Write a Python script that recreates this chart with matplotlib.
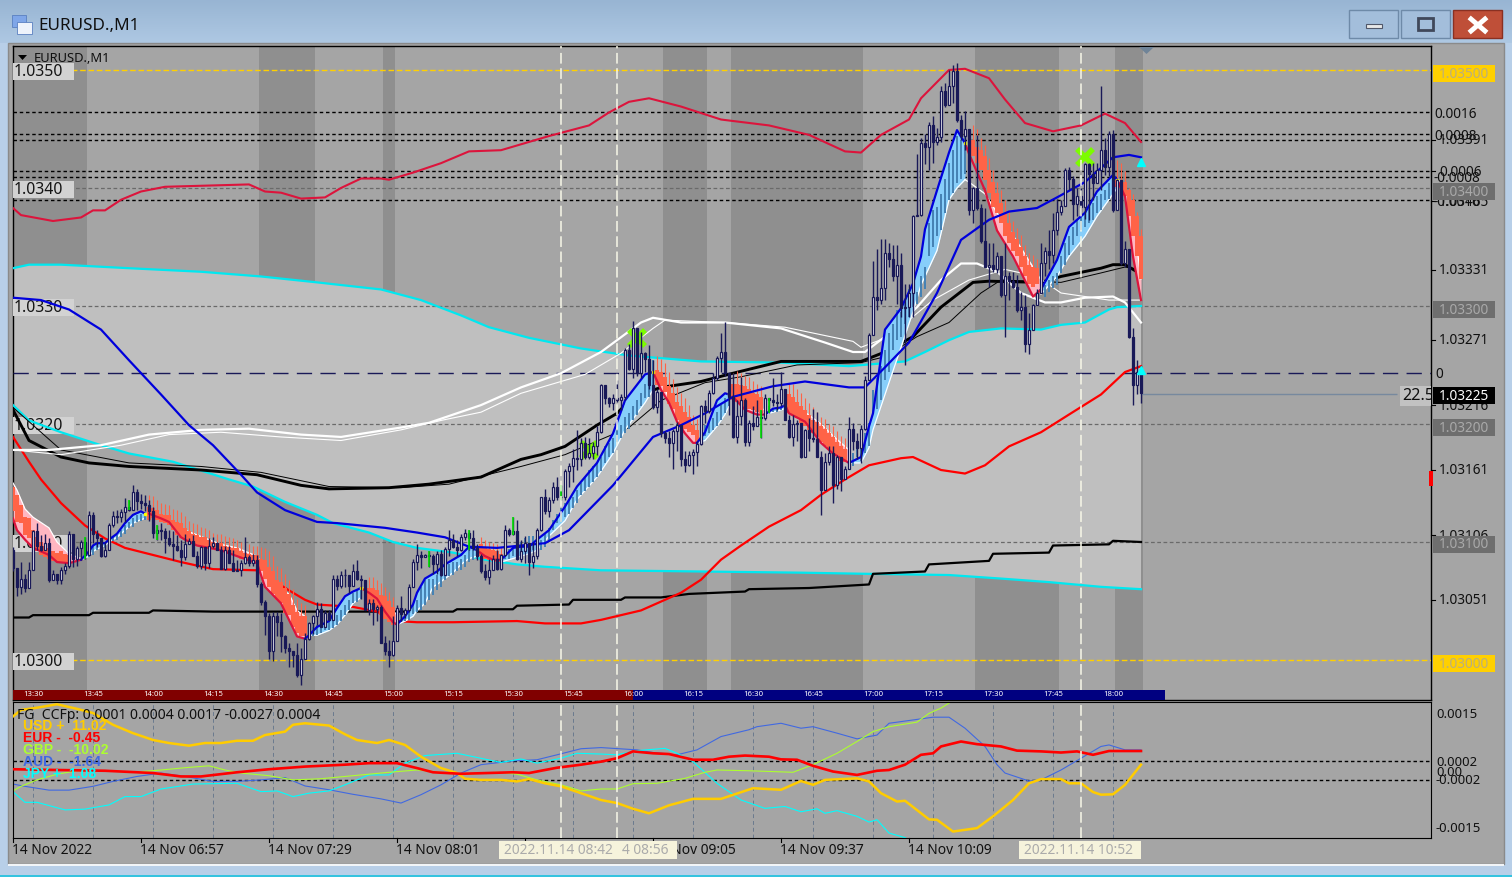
import numpy as np
import matplotlib
matplotlib.use("Agg")
from matplotlib import pyplot as plt
from matplotlib.patches import Rectangle, Polygon

plt.rcParams['font.family'] = ['Noto Sans', 'DejaVu Sans']

# prices are in points above 1.03000, x is bars (minutes) from 13:25
closes = [78,62,69,61,76,109,97,93,99,68,73,68,76,80,107,86,95,100,89,123,107,103,88,93,114,122,121,125,130,127,
          142,135,133,131,126,108,110,109,103,98,97,93,87,98,101,88,80,96,82,97,99,93,77,93,82,75,76,82,87,82,
          85,64,49,37,8,37,32,20,10,8,
          4,-13,1,18,31,37,43,28,40,34,69,63,72,72,63,75,69,68,42,48,43,45,14,8,4,16,44,39,42,62,83,89,87,89,88,81,90,72,
          94,102,96,93,104,108,103,95,88,75,70,76,86,77,89,110,107,109,86,92,99,83,88,110,138,
          126,136,147,138,138,160,164,171,170,184,172,175,181,193,233,222,218,222,220,223,263,247,281,243,260,255,233,
          214,227,192,188,184,194,199,170,165,174,176,183,215,211,226,239,256,261,243,223,189,207,220,185,201,198,206,
          205,222,220,219,218,230,203,189,200,201,172,195,188,187,172,144,168,175,148,172,153,162,196,186,180,196,237,
          275,308,305,315,345,340,325,335,298,299,311,376,377,438,435,453,439,443,482,470,486,499,458,444,450,381,400,
          383,355,333,335,331,342,309,325,321,316,297,299,268,280,301,311,336,347,343,364,380,385,415,408,386,393,384,
          420,412,404,415,432,418,446,381,407,336,348,274,233,244,226]
highs = [96,78,83,73,83,110,116,106,107,103,76,73,79,82,109,106,97,102,104,126,125,110,102,100,116,126,127,128,137,136,
         148,145,141,140,136,130,114,116,112,110,109,106,102,107,103,106,92,97,96,103,104,100,97,97,97,93,85,85,104,89,
         90,89,66,51,40,41,41,40,21,14,
         8,14,10,23,32,38,49,48,42,42,72,72,75,77,72,81,85,72,67,52,52,47,47,20,17,37,47,54,44,64,86,98,92,90,92,90,92,93,
         96,110,107,102,107,111,110,110,98,90,81,86,89,93,90,114,112,121,119,102,105,99,100,112,138,
         145,138,151,155,148,162,167,179,195,188,189,188,185,198,234,233,223,225,237,225,264,268,287,280,278,261,267,
         254,230,222,194,194,196,202,192,177,177,179,186,216,220,229,243,258,277,286,234,243,220,240,222,203,215,220,
         212,225,222,239,225,244,230,208,208,203,200,196,205,213,210,177,175,181,181,174,164,164,206,201,192,199,241,
         277,338,348,357,357,353,352,352,345,319,319,377,429,442,446,456,461,451,486,489,500,504,506,462,465,446,401,
         445,386,383,353,353,346,342,353,329,329,326,312,309,294,302,314,353,350,364,379,391,390,417,418,410,400,400,
         421,421,421,421,486,442,448,449,408,398,355,340,281,254,249]
lows = [75,54,56,58,68,78,93,92,93,66,68,64,64,73,78,79,80,85,86,96,99,96,87,87,93,113,116,117,117,126,
        127,127,128,126,118,103,102,102,91,97,85,92,80,85,99,88,78,77,76,78,95,93,77,76,82,75,75,71,81,80,
        80,62,47,21,1,-1,20,7,6,-6,
        -6,-14,-21,1,17,22,30,28,29,34,36,59,61,62,57,64,68,52,42,38,30,33,14,4,-6,3,16,33,36,41,62,76,78,88,79,73,73,71,
        72,88,95,88,92,102,93,93,85,74,68,64,76,76,76,88,105,106,85,83,82,72,78,86,109,
        124,121,133,136,136,136,147,151,161,164,170,170,170,174,192,217,214,212,219,212,220,246,239,241,239,244,230,
        213,209,189,184,172,162,177,164,159,164,158,164,182,201,209,225,237,244,241,208,188,184,199,181,181,195,198,
        188,203,209,215,212,215,203,188,181,186,171,172,177,185,172,123,145,165,133,145,143,153,162,178,170,167,195,
        237,275,297,302,305,333,321,302,291,250,291,291,376,376,420,415,421,436,439,469,473,472,456,441,432,377,370,
        381,353,333,316,329,328,308,274,305,315,295,288,261,259,280,301,311,325,331,336,360,377,390,398,373,376,377,
        374,373,390,404,398,411,410,380,381,335,333,273,216,225,218]

up_cyan_t = [0,4,12,29,47,62,76,92,102,112,119,129,142,154,172,192,209,223,228,234,239,247,257,262,268,274,276,282]
up_cyan_v = [332,335,335,332,329,325,320,314,305,292,282,273,264,258,253,252,249,253,261,271,278,281,280,284,286,297,299,300]
lo_cyan_t = [0,4,12,22,29,40,54,60,68,76,80,89,95,101,110,118,126,133,147,172,197,214,234,247,259,272,282]
lo_cyan_v = [216,203,193,182,175,168,153,147,134,123,116,108,100,95,91,85,81,79,76,75,74,73,72,69,66,62,60]
band_t = [0,2,10,17,20,23,27,32,38,59,63,67,72,78,82,87,92,94,100,107,114,122,134,144,149,154,159,167,177,189,199,
          208,212,217,224,227,234,238,244,248,253,260,267,273,278,282]
band_v = [383,377,372,375,381,381,390,397,401,403,397,396,391,392,400,408,408,407,413,421,431,432,444,453,464,473,476,
          469,458,453,445,431,430,445,458,476,500,501,493,475,455,448,453,463,455,439]
slow_t = [0,7,14,22,29,37,44,50,57,61,68,76,81,93,101,108,114,121,133,139,150,160,167,173,180,190,198,209,213,218,224,
          231,237,244,249,256,261,268,275,279,282]
slow_v = [307,305,297,280,254,225,199,182,157,142,127,117,116,112,108,104,96,95,99,110,148,189,199,209,223,232,236,231,
          231,248,269,311,356,373,380,383,392,405,426,428,426]
black_t = [0,4,12,19,29,47,61,72,79,94,104,117,127,132,138,146,151,155,162,172,180,192,199,212,218,225,232,240,244,257,
           262,272,275,278,282]
black_v = [212,186,172,167,164,161,157,148,145,146,149,155,170,174,181,199,209,223,231,236,243,253,253,253,261,274,299,
           320,321,320,325,332,335,335,327]
thin_black_t = [0,12,29,47,62,79,97,109,127,138,154,162,173,182,196,212,218,226,234,242,247,262,272,278,282]
thin_black_v = [214,178,167,164,159,147,146,149,164,174,197,220,235,240,250,252,257,274,286,311,322,320,328,333,331]
white_t = [0,9,22,34,47,59,72,82,97,104,117,127,137,147,157,160,167,178,192,203,210,213,218,226,232,237,241,246,252,
           258,262,268,275,278,282]
white_v = [178,178,182,191,195,196,191,189,197,201,216,231,243,261,286,290,286,286,281,269,261,261,274,299,322,336,336,
           329,311,303,303,307,308,303,286]
thin_white_t = [0,12,27,39,52,67,82,97,107,117,127,143,152,160,163,178,193,210,212,219,230,239,248,256,262,274,282]
thin_white_v = [178,174,182,191,193,189,186,195,203,210,226,242,260,281,288,286,282,270,265,274,305,322,331,325,311,305,305]
red_t = [0,4,7,12,18,23,28,35,42,50,61,63,69,73,76,85,91,96,101,110,126,133,142,147,157,167,172,177,182,189,197,202,
         208,214,222,225,232,238,243,249,257,264,272,278,282]
red_v = [189,168,153,133,114,103,95,89,83,77,76,72,59,51,47,45,41,33,32,32,33,31,31,34,42,57,68,85,97,113,127,140,153,
         165,171,172,161,158,165,181,193,208,225,244,249]
step_t = [0,4,5,19,20,34,35,50,110,111,125,126,139,140,152,153,162,169,183,184,199,214,215,228,229,244,245,259,260,274,275,282]
step_v = [36,36,38,38,40,40,42,41,41,43,43,46,47,51,51,53,53,56,58,60,61,64,73,75,81,84,90,91,97,98,101,100]

# down runs: fast average knots, band edge knots, first bar, histogram top / bottom / wick per bar
dn_a_t = [0,1,3,5,9,11,14,17]
dn_a_ma = [120,110,102,95,89,83,82,85]
dn_a_edge = [150,144,128,121,112,100,90,86]
dn_a_top = [147,140,131,121,120,110,104,100,97,95,92,91,92,90,89]
dn_a_bot = [126,117,116,106,103,96,92,89,87,86,84,83,82,82,82]
dn_a_wick = [147,140,131,121,120,110,104,100,97,95,92,91,92,90,89]
dn_b_t = [34,37,39,42,43,46,52,56,61,63,67,69,71,73]
dn_b_ma = [124,120,117,104,102,97,93,88,82,62,48,34,20,18]
dn_b_edge = [126,122,119,112,110,106,98,95,88,78,60,56,42,37]
dn_b_top = [130,129,127,124,123,123,119,117,116,112,109,107,106,104,104,102,100,99,99,97,96,95,95,92,91,90,89,89,86,85,
            79,75,68,66,61,56,47,41,37,37]
dn_b_bot = [119,120,119,117,116,114,110,106,103,102,100,99,97,97,96,95,95,95,93,92,90,89,88,86,86,86,85,83,75,69,
            62,56,51,48,40,38,28,23,20,20]
dn_b_wick = [140,139,136,133,132,131,128,127,125,122,118,116,115,113,112,110,108,107,107,105,104,103,102,100,99,98,97,
             97,96,95,92,88,80,78,73,68,60,52,48,47]
dn_c_t = [87,89,91,93,95,96]
dn_c_ma = [61,57,52,41,32,30]
dn_c_edge = [61,60,55,50,42,38]
dn_c_top = [61,61,59,55,54,50,45]
dn_c_bot = [47,47,42,38,35,32,30]
dn_c_wick = [70,70,68,65,62,58,53]
dn_d_t = [116,118,120,122]
dn_d_ma = [93,88,85,85]
dn_d_edge = [93,92,90,88]
dn_d_top = [98,96,94,93,92,90]
dn_d_bot = [88,86,85,84,83,83]
dn_d_wick = [104,102,100,99,98,96]
dn_e_t = [160,162,164,166,168,170,171]
dn_e_ma = [244,229,218,202,192,184,184]
dn_e_edge = [244,236,222,212,205,196,190]
dn_e_top = [246,244,240,232,226,219,215,210,206,199,195]
dn_e_bot = [233,232,227,217,213,203,199,196,193,191,185]
dn_e_wick = [258,255,252,244,238,231,226,222,216,208,204]
dn_f_t = [180,183,186,188]
dn_f_ma = [223,212,208,208]
dn_f_edge = [225,218,214,212]
dn_f_top = [234,234,233,232,230,226,225,223]
dn_f_bot = [220,219,217,213,213,212,210,209]
dn_f_wick = [243,245,243,241,240,236,234,232]
dn_g_t = [193,194,198,202,205,209]
dn_g_ma = [216,209,202,184,175,167]
dn_g_edge = [216,215,210,200,190,178]
dn_g_top = [225,223,219,215,212,208,203,202,198,196,192,189,185,181,179]
dn_g_bot = [209,208,205,201,198,195,192,189,185,181,178,175,174,169,168]
dn_g_wick = [235,234,230,226,222,218,214,210,206,204,200,198,194,190,188]
dn_h_t = [238,239,243,246,250,255,257]
dn_h_ma = [438,429,398,364,342,308,314]
dn_h_edge = [407,405,395,379,360,333,322]
dn_h_top = [441,435,432,427,415,405,396,387,379,370,363,357,350,342,335,333,332]
dn_h_bot = [427,421,415,407,396,384,379,370,359,353,347,342,333,325,319,316,319]
dn_h_wick = [453,450,442,436,425,415,405,398,390,380,372,366,360,352,345,343,340]
dn_i_t = [276,278,280,282]
dn_i_ma = [407,393,342,305]
dn_i_edge = [408,402,376,323]
dn_i_top = [407,405,405,398,390,376,359]
dn_i_bot = [401,400,393,376,359,342,323]
dn_i_wick = [424,421,414,400,395,380,365]

# up runs, same layout without wicks
up_a_t = [17,19,20,21,23,24,26,28,30,32,33]
up_a_ma = [85,92,97,99,99,102,107,116,123,126,124]
up_a_edge = [85,88,92,94,97,100,104,110,116,119,120]
up_a_top = [95,97,99,99,100,103,104,106,110,114,117,120,123,124,124]
up_a_bot = [87,89,93,93,95,99,101,102,104,107,112,113,117,118,119]
up_b_t = [73,74,76,79,81,83,85,87]
up_b_ma = [18,21,28,33,44,54,58,61]
up_b_edge = [18,21,21,25,30,38,48,53]
up_b_top = [28,30,31,33,33,35,38,42,47,51,57,59,61]
up_b_bot = [20,21,23,25,25,27,30,33,38,42,48,49,52]
up_c_t = [96,98,100,101,103,105,106,108,110,112,114,116]
up_c_ma = [30,37,47,57,69,73,75,81,85,89,96,93]
up_c_edge = [30,33,37,42,48,62,64,69,74,81,86,88]
up_c_top = [38,39,42,47,51,62,68,69,69,72,78,79,81,83,83,86,89,93,93,93]
up_c_bot = [32,33,34,39,41,42,47,51,55,59,62,68,71,72,75,76,79,83,85,86]
up_d_t = [122,125,127,129,131,134,138,141,146,150,153,158,160]
up_d_ma = [85,95,96,96,102,110,130,147,167,192,220,242,244]
up_d_edge = [83,86,88,90,93,105,118,136,155,175,195,218,229]
up_d_top = [93,94,96,99,100,103,105,105,106,102,107,112,
            119,124,129,133,136,138,144,150,155,161,164,167,172,181,184,188,196,199,206,209,215,220,226,234,239,254]
up_d_bot = [86,86,88,90,89,92,92,93,95,93,96,100,
            110,116,117,121,124,129,133,140,143,147,151,155,160,167,172,175,185,188,192,196,203,208,215,222,223,229]
up_e_t = [171,173,176,178,179]
up_e_ma = [184,193,220,226,225]
up_e_edge = [184,186,198,208,215]
up_e_top = [198,199,202,205,210,216,222,226]
up_e_bot = [189,190,192,195,198,203,209,215]
up_f_t = [188,190,192,193]
up_f_ma = [208,213,214,216]
up_f_edge = [208,210,212,213]
up_f_top = [215,213,213,215,216]
up_f_bot = [210,210,210,212,213]
up_g_t = [209,212,214,215,218,222,224,225,227,228,231,234,236,238]
up_g_ma = [167,172,198,209,280,298,312,319,342,365,398,430,449,438]
up_g_edge = [167,167,180,195,225,265,285,295,318,325,347,390,400,407]
up_g_top = [172,175,181,184,192,201,229,239,249,263,277,285,297,295,305,314,322,312,325,333,370,381,384,395,408,421,432,444,441,446]
up_g_bot = [161,164,172,169,175,181,209,213,220,237,244,263,271,274,285,291,299,302,308,314,342,350,359,364,379,390,396,404,408,412]
up_h_t = [257,261,264,268,271,275,276]
up_h_ma = [314,339,367,379,397,411,407]
up_h_edge = [310,325,342,359,376,395,400]
up_h_top = [318,322,325,328,342,353,359,367,373,376,379,384,387,393,395,398,404,407]
up_h_bot = [308,312,315,318,328,335,343,352,359,364,367,370,373,379,381,390,391,395]

down_runs = [(0, dn_a_t, dn_a_ma, dn_a_edge, dn_a_top, dn_a_bot, dn_a_wick), (34, dn_b_t, dn_b_ma, dn_b_edge, dn_b_top, dn_b_bot, dn_b_wick),
             (89, dn_c_t, dn_c_ma, dn_c_edge, dn_c_top, dn_c_bot, dn_c_wick), (117, dn_d_t, dn_d_ma, dn_d_edge, dn_d_top, dn_d_bot, dn_d_wick),
             (161, dn_e_t, dn_e_ma, dn_e_edge, dn_e_top, dn_e_bot, dn_e_wick), (180, dn_f_t, dn_f_ma, dn_f_edge, dn_f_top, dn_f_bot, dn_f_wick),
             (194, dn_g_t, dn_g_ma, dn_g_edge, dn_g_top, dn_g_bot, dn_g_wick), (240, dn_h_t, dn_h_ma, dn_h_edge, dn_h_top, dn_h_bot, dn_h_wick),
             (276, dn_i_t, dn_i_ma, dn_i_edge, dn_i_top, dn_i_bot, dn_i_wick)]
up_runs = [(19, up_a_t, up_a_ma, up_a_edge, up_a_top, up_a_bot), (75, up_b_t, up_b_ma, up_b_edge, up_b_top, up_b_bot),
           (97, up_c_t, up_c_ma, up_c_edge, up_c_top, up_c_bot), (123, up_d_t, up_d_ma, up_d_edge, up_d_top, up_d_bot),
           (172, up_e_t, up_e_ma, up_e_edge, up_e_top, up_e_bot), (189, up_f_t, up_f_ma, up_f_edge, up_f_top, up_f_bot),
           (209, up_g_t, up_g_ma, up_g_edge, up_g_top, up_g_bot), (258, up_h_t, up_h_ma, up_h_edge, up_h_top, up_h_bot)]

session_starts = [0,61.5,92.5,162.5,179.5,240.5,275.5]
session_ends = [18.5,75.5,95.5,173.5,212.5,261.5,282.5]
green_t = [18,29,36,104,114,125,137,187,189]
green_lo = [86,127,102,79,93,106,136,188,209]
green_hi = [104,136,114,92,110,121,148,212,222]
lime_t = [144,156,268]
lime_v = [178,273,426]
gold_levels = [500,0]
grey_levels = [400,300,200,100]
black_levels = [464,446,441,414,409,390]
left_labels = ['1.0350','1.0340','1.0330','1.0320','1.0310','1.0300']
left_values = [500,400,300,200,100,0]
hour_labels = ['13:30','13:45','14:00','14:15','14:30','14:45','15:00','15:15','15:30','15:45','16:00','16:15','16:30',
               '16:45','17:00','17:15','17:30','17:45','18:00']
hour_t = [5,20,35,50,65,80,95,110,125,140,155,170,185,200,215,230,245,260,275]
marker_t = [137,151,267]

# lower panel, units of 0.0001
usd_t = [0,2,6,11,16,20,25,30,35,39,44,48,52,56,60,63,68,70,73,79,83,86,91,94,98,102,107,111,113,117,122,126,129,133,137,142,
         147,151,155,159,164,170,177,185,192,197,200,203,211,214,217,221,223,229,231,235,241,245,250,254,257,262,264,267,270,272,275,278,282]
usd_v = [14.1,15.8,16.4,17.3,16.1,15,11.9,9.7,7.9,7.1,6.4,7.1,7.1,7.7,7.7,9.2,10.1,11.9,12.3,11.7,9.4,7.9,7.1,7.9,6.6,3.5,.5,-.8,-2.3,-2.6,-2.6,-3,-2.4,-3.5,-4.3,-6.1,
         -7.9,-8.7,-10.2,-11.4,-9.3,-7.6,-7.6,-4.8,-5.2,-2.9,-3.9,-2.6,-2.2,-3,-6.1,-8.3,-8.1,-13,-13.1,-16.2,-15.3,-12.2,-7.9,-3.5,-2.4,-2.4,-3.5,-3.5,-5.8,-6.5,-6.4,-3.9,1.4]
eur_t = [0,11,23,35,42,47,56,64,73,83,89,96,101,105,112,125,129,133,136,142,147,151,155,160,164,170,175,179,183,189,192,196,200,205,211,216,219,223,227,230,232,237,241,247,251,257,262,266,270,274,282]
eur_v = [.2,0,-.2,-.8,-1.7,-1.7,-.6,.2,.9,1.4,1.8,1.8,.5,-.6,-1,-.6,-.8,0,.6,1.4,2.2,3.1,4.9,4.4,4.2,2.7,2.7,3.5,3.8,3.5,2.8,2.7,1.1,-.4,-1.3,-.2,0,1.4,4,4.4,6.2,7.5,6.8,6.2,5.1,4.9,4.6,4.9,4,5,5]
gbp_t = [0,2,6,11,16,23,30,37,43,49,53,57,64,70,77,83,89,94,101,107,114,121,126,131,137,142,147,151,155,161,168,173,176,184,195,200,206,211,215,219,226,229,232,234]
gbp_v = [-5.5,-4.3,-2.6,-1.1,-.2,-.2,-.6,0,.6,1.1,0,-.8,-1.5,-2.6,-2.3,-1.7,-1.1,-.6,0,-.6,-1.1,-.6,-1.1,-2.6,-3.9,-5.5,-5,-5,-3.6,-3.5,-2.2,-.6,0,-.2,-.6,1.4,4.4,7.5,10.1,11.4,12.6,14.9,16.3,17.6]
aud_t = [0,3,9,14,20,25,31,37,43,50,56,62,68,73,79,85,92,97,102,107,112,117,125,131,136,142,147,156,160,166,171,177,184,186,192,197,200,206,211,216,219,230,234,238,243,246,248,254,257,262,267,272,274,278,282]
aud_v = [-3.7,-4.3,-5.3,-5.3,-4.3,-3,-1.7,-.8,-1.7,-3,-3,-2.6,-2,-4.2,-5.2,-6.4,-7.6,-8.7,-6.5,-3.9,-.8,1.4,2.4,2.7,4,5.6,5.9,5.3,4.6,4,5.3,8.8,10.6,11.4,12.3,11,11.4,9.7,8.2,9.2,12.3,13.9,13.9,11,6.2,1.4,-.8,-2.9,-2.6,0,3.1,6.2,6.6,5.3,5.3]
jpy_t = [0,3,6,13,18,24,28,32,37,45,50,56,62,66,70,74,79,83,89,94,98,103,111,116,122,127,131,137,141,147,151,156,163,166,170,176,182,188,193,197,201,203,206,211,214,216,219,223,226]
jpy_v = [-5.7,-8.5,-8.5,-10.5,-10.3,-9.2,-7,-7,-5,-3.7,-3.6,-3.5,-5.7,-5.5,-7,-6.1,-5.5,-3.9,-1.3,-1.3,1.8,3.8,4.4,3.3,2,2.9,1.8,3.1,4.4,4.2,4,5.1,5.7,4.4,2.2,-3.5,-7.9,-10.1,-9.6,-11,-10.2,-11.4,-10.7,-12.2,-13.7,-13.1,-16.6,-17.8,-20]
legend_names = ['USD +  11.02','EUR -  -0.45','GBP -  -10.02','AUD -  -1.64','JPY +  1.08']
legend_colors = ['#ffcc00','#ff0000','#adff2f','#4169e1','#00ffff']
date_labels = ['14 Nov 2022','14 Nov 06:57','14 Nov 07:29','14 Nov 08:01','14 Nov 08:33','14 Nov 09:05','14 Nov 09:37','14 Nov 10:09']
date_px = [12,140,268,396,524,652,780,908]

W, H = 1512, 877
BG = '#a5a5a5'
DARK = '#8f8f8f'
NAVY = '#191958'
fig = plt.figure(figsize=(W/100, H/100), dpi=100)
fig.patch.set_facecolor('#b8cfe8')


def px_axes(x0, y0, x1, y1, z):
    return fig.add_axes([x0/W, 1-y1/H, (x1-x0)/W, (y1-y0)/H], zorder=z)


# window frame
back = px_axes(0, 0, W, H, 0)
back.set_xlim(0, W)
back.set_ylim(H, 0)
back.axis('off')
grad = np.linspace(0, 1, 40)[:, None]
back.imshow(grad, extent=[0, W, 43, 0], aspect='auto', cmap=matplotlib.colors.LinearSegmentedColormap.from_list('t', ['#98b5d3', '#aec8e3']))
back.set_xlim(0, W)
back.set_ylim(H, 0)
back.add_patch(Rectangle((8, 43), 1496, 821, fc=BG, ec='#8a8a8a', lw=1))
back.add_patch(Rectangle((8, 864), 1496, 2, fc='#f2f5f8', ec='none'))
back.add_patch(Rectangle((0, 875), W, 1.5, fc='#35c3df', ec='none'))
back.add_patch(Rectangle((12, 15), 14, 12, fc='#7fa6e8', ec='#5a80c0', lw=.6))
back.add_patch(Rectangle((17, 22), 15, 12, fc='#eef3fb', ec='#5a80c0', lw=.6))
back.text(38, 26, 'EURUSD.,M1', fontsize=12.3, color='#101010', va='center')
for bx, col in [(1349, '#a3bedb'), (1401, '#a3bedb'), (1453, '#bf4f38')]:
    back.add_patch(Rectangle((bx, 10), 49, 28, fc=col, ec='#6e8aa8' if bx < 1453 else '#8a3022', lw=1))
back.add_patch(Rectangle((1366, 24), 16, 4, fc='#e8e8e8', ec='#50586a', lw=.8))
back.add_patch(Rectangle((1418, 18), 15, 12, fc='none', ec='#40485a', lw=2))
back.plot([1471, 1485], [19, 31], color='white', lw=3.5)
back.plot([1485, 1471], [19, 31], color='white', lw=3.5)

# main chart
ax = px_axes(13, 46, 1431, 700, 1)
ax.set_facecolor(BG)
ax.set_xlim(0, 354.5)
ax.set_ylim(-33.9, 520.3)
ax.set_xticks([])
ax.set_yticks([])
for sp in ax.spines.values():
    sp.set_linewidth(1)

for a, b in zip(session_starts, session_ends):
    ax.axvspan(a, b, color=DARK, lw=0, zorder=1)
ax.fill(np.r_[up_cyan_t, lo_cyan_t[::-1]], np.r_[up_cyan_v, lo_cyan_v[::-1]], color='#bfbfbf', lw=0, zorder=2)

ax.hlines(gold_levels, 0, 354.5, color='#ffd000', lw=1, linestyles=(0, (4, 2)), zorder=3)
ax.hlines(grey_levels, 0, 354.5, color='#6a6a6a', lw=.9, linestyles=(0, (3, 2)), zorder=3)
ax.hlines(black_levels, 0, 354.5, color='black', lw=1, linestyles=(0, (2.5, 2)), zorder=3)
ax.hlines(243, 0, 354.5, color=NAVY, lw=1, linestyles=(0, (11, 6)), zorder=3)
ax.hlines(225, 282, 346, color='#77899e', lw=1, zorder=3)

for txt, lv in zip(left_labels, left_values):
    ax.add_patch(Rectangle((0, lv-8.5), 15.25, 14.5, fc='#d2d2d2', ec='none', zorder=3.5))
    ax.text(.2, lv-1.5, txt, fontsize=11.4, color='#151515', va='center', zorder=3.6)

ax.plot(band_t, band_v, color='#dc143c', lw=1.5, zorder=4)
ax.plot(up_cyan_t, up_cyan_v, color='#00e8f0', lw=1.6, zorder=4)
ax.plot(lo_cyan_t, lo_cyan_v, color='#00e8f0', lw=1.6, zorder=4)
ax.plot(step_t, step_v, color='black', lw=1.6, zorder=4)
ax.plot(red_t, red_v, color='#ff0000', lw=1.6, zorder=4)
ax.plot(black_t, black_v, color='black', lw=2.1, zorder=4)
ax.plot(thin_black_t, thin_black_v, color='black', lw=.7, zorder=4)
ax.plot(white_t, white_v, color='white', lw=1.6, zorder=4)
ax.plot(thin_white_t, thin_white_v, color='white', lw=.8, zorder=4)
ax.plot(slow_t, slow_v, color='#0000dc', lw=1.6, zorder=6)

for start, t, ma, edge, top, bot, wick in down_runs:
    t, ma, edge = np.array(t), np.array(ma), np.array(edge)
    ax.fill_between(t, ma, edge, where=edge >= ma, interpolate=True, color='#ffb6c1', lw=0, zorder=4.5)
    ax.plot(t, edge, color='white', lw=.9, zorder=4.6)
    bars = np.arange(len(top)) + start
    ax.vlines(bars, top, wick, color='#ff6347', lw=.8, zorder=5)
    ax.bar(bars, np.array(top)-np.array(bot), bottom=bot, width=.86, color='#ff6347', lw=0, zorder=5)
    ax.plot(t, ma, color='#dc143c', lw=1.6, zorder=5.5)
for start, t, ma, edge, top, bot in up_runs:
    ax.fill_between(t, ma, edge, color='#87cefa', lw=0, zorder=4.5)
    ax.plot(t, edge, color='white', lw=.9, zorder=4.6)
    bars = np.arange(len(top)) + start
    ax.bar(bars, np.array(top)-np.array(bot), bottom=bot, width=.74, color='#4682b4', lw=0, zorder=5)
    ax.plot(t, ma, color='#0000dc', lw=1.6, zorder=5.5)
    ax.plot(t[-1], ma[-1], 's', color='yellow', ms=1.6, zorder=5.6)

# candles, each opens at the previous close
bar_t = np.arange(len(closes))
closes = np.array(closes)
opens = np.r_[93, closes[:-1]]
assert len(highs) == len(closes) == len(lows), (len(highs), len(closes), len(lows))
highs = np.maximum(np.maximum(highs, closes), opens)
lows = np.minimum(np.minimum(lows, closes), opens)
ax.vlines(bar_t, lows, highs, color=NAVY, lw=1, zorder=7)
rising = closes >= opens
ax.bar(bar_t[rising], (closes-opens)[rising], bottom=opens[rising], width=.6, fc='white', ec=NAVY, lw=.9, zorder=7.2)
ax.bar(bar_t[~rising], (opens-closes)[~rising], bottom=closes[~rising], width=.6, fc=NAVY, ec=NAVY, lw=.9, zorder=7.2)

ax.vlines(green_t, green_lo, green_hi, color='#00e000', lw=1.2, zorder=7.5)
ax.plot(lime_t, lime_v, 'x', color='#7cfc00', ms=12, mew=4, zorder=6.5)
ax.plot([282, 282], [422, 246], '^', color='#00ffff', ms=6, zorder=8)
ax.vlines(marker_t, -25.4, 520.3, color='#f8f8e8', lw=1.1, linestyles=(0, (7, 3)), zorder=8)

ax.fill_between([0, 155], -33.9, -25.4, color='#800000', lw=0, zorder=9)
ax.fill_between([155, 288], -33.9, -25.4, color='#000080', lw=0, zorder=9)
for lab, t in zip(hour_labels, hour_t):
    ax.text(t, -29.6, lab, fontsize=5.6, color='white', ha='center', va='center', zorder=10)
ax.text(347.2, 224, '22.5', fontsize=11.6, color='#101010', va='center', clip_on=True, zorder=9,
        bbox=dict(fc='#c2c2c2', ec='none', pad=1.5))

# lower panel
sub = px_axes(13, 702, 1431, 838, 1)
sub.set_facecolor(BG)
sub.set_xlim(0, 354.5)
sub.set_ylim(-17.9, 17.9)
sub.set_xticks([])
sub.set_yticks([])
sub.vlines(hour_t, -17.9, 17.9, color='#6b7a8e', lw=.7, linestyles=(0, (4, 3)), zorder=1)
sub.hlines([2.4, -2.6], 0, 354.5, color='black', lw=1, linestyles=(0, (2.5, 2)), zorder=1)
sub.plot(aud_t, aud_v, color='#4169e1', lw=.8, zorder=2)
sub.plot(jpy_t, jpy_v, color='#00ffff', lw=.8, zorder=2)
sub.plot(gbp_t, gbp_v, color='#adff2f', lw=.8, zorder=2)
sub.plot(usd_t, usd_v, color='#ffcc00', lw=1.8, zorder=3)
sub.plot(eur_t, eur_v, color='#ff0000', lw=1.9, zorder=3)
sub.vlines(marker_t, -17.9, 17.9, color='#f8f8e8', lw=1.1, linestyles=(0, (7, 3)), zorder=4)

# everything drawn in screen pixels on top
over = px_axes(0, 0, W, H, 3)
over.set_xlim(0, W)
over.set_ylim(H, 0)
over.axis('off')
over.add_patch(Polygon([[18, 55], [27, 55], [22.5, 60]], fc='black', ec='none'))
over.text(34, 58, 'EURUSD.,M1', fontsize=9.3, color='#101010', va='center')
over.add_patch(Polygon([[1139, 47], [1154, 47], [1146.5, 54]], fc='#6f8498', ec='none'))
over.add_patch(Rectangle((1429, 471), 4, 15, fc='#ff0000', ec='none'))

over.text(17, 715.5, 'FG  CCFp: 0.0001 0.0004 0.0017 -0.0027 0.0004', fontsize=10.1, color='#101010', va='center')
for k, (txt, col) in enumerate(zip(legend_names, legend_colors)):
    over.text(23, 726+12*k, txt, fontsize=10, family='Liberation Sans', weight='bold', color=col, va='center')

RFONT = 9.8
for txt, y in [('1.03331', 271), ('1.03271', 341), ('1.03216', 406), ('1.03161', 471), ('1.03106', 536), ('1.03051', 601),
               ('1.03391', 141), ('0.0006', 172), ('1.03465', 202)]:
    over.text(1439, y, txt, fontsize=RFONT, color='#101010', va='center')
    over.plot([1431, 1435], [y-1, y-1], color='black', lw=.8)
for txt, y in [('0.0016', 115), ('0.0008', 136), ('-0.0008', 179), ('-0.0016', 202)]:
    over.text(1434, y, txt, fontsize=RFONT, color='#101010', va='center', zorder=3)
over.text(1435, 375, '0', fontsize=RFONT, color='#101010', va='center')
for txt, y, fc, tc in [('1.03500', 73, '#ffd000', '#b9ae80'), ('1.03400', 191, '#6e6e6e', '#a9a9a9'), ('1.03300', 309, '#6e6e6e', '#a9a9a9'),
                       ('1.03200', 427, '#6e6e6e', '#a9a9a9'), ('1.03100', 544, '#6e6e6e', '#a9a9a9'), ('1.03000', 663, '#ffd000', '#b9ae80'),
                       ('1.03225', 395, 'black', 'white')]:
    over.add_patch(Rectangle((1433, y-8.5), 62, 17, fc=fc, ec='none', zorder=4))
    over.text(1439, y+1, txt, fontsize=RFONT, color=tc, va='center', zorder=5)
for txt, y in [('0.0015', 714), ('0.0002', 763), ('0.00', 772), ('-0.0002', 781), ('-0.0015', 828)]:
    over.text(1436, y, txt, fontsize=9.4, color='#101010', va='center')

for txt, x in zip(date_labels, date_px):
    over.text(x, 851, txt, fontsize=9.9, color='#101010', va='center')
    over.plot([x+1, x+1], [838, 842], color='black', lw=.8)
for x0, x1 in [(499, 677), (1019, 1141)]:
    over.add_patch(Rectangle((x0, 841), x1-x0, 18, fc='#f6f3dc', ec='none', zorder=4))
over.text(504, 851, '2022.11.14 08:42', fontsize=9.9, color='#ababab', va='center', zorder=5)
over.text(622, 851, '4 08:56', fontsize=9.9, color='#ababab', va='center', zorder=5)
over.text(1024, 851, '2022.11.14 10:52', fontsize=9.9, color='#ababab', va='center', zorder=5)

fig.savefig('out.png', dpi=100, facecolor=fig.get_facecolor())
